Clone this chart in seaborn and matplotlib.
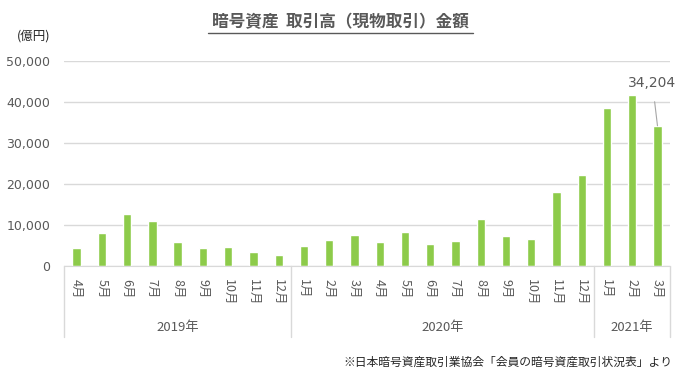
import numpy as np
import pandas as pd
import matplotlib
matplotlib.use("Agg")
import matplotlib.pyplot as plt
import seaborn as sns

sns.set_style("white")
plt.rcParams['font.family'] = ['Noto Sans CJK JP', 'DejaVu Sans']

# data (億円), 2019/4 - 2021/3
months = ['4月', '5月', '6月', '7月', '8月', '9月', '10月', '11月', '12月',
          '1月', '2月', '3月', '4月', '5月', '6月', '7月', '8月', '9月', '10月', '11月', '12月',
          '1月', '2月', '3月']
values = [4300, 8050, 12700, 11000, 5850, 4300, 4600, 3400, 2700,
          4900, 6300, 7600, 5850, 8300, 5350, 6100, 11450, 7300, 6600, 18000, 22200,
          38500, 41700, 34204]
years = ['2019年', '2020年', '2021年']
year_counts = [9, 12, 3]

df = pd.DataFrame({'idx': range(len(values)), 'value': values})

grey = '#595959'
fig = plt.figure(figsize=(6.81, 3.79), dpi=100)
ax = fig.add_axes([0.094, 0.298, 0.89, 0.541])

sns.barplot(data=df, x='idx', y='value', color='#8DCB4A', width=0.33,
            saturation=1, ax=ax)

ax.set_xlim(-0.5, len(values) - 0.5)
ax.set_ylim(0, 50000)
ax.set_yticks(range(0, 50001, 10000))
ax.set_yticklabels([f'{v:,}' for v in range(0, 50001, 10000)], color=grey,
                   fontsize=9, family=['DejaVu Sans'])
ax.yaxis.grid(True, color='#D9D9D9', linewidth=1)
ax.set_axisbelow(True)
for s in ['top', 'right', 'left']:
    ax.spines[s].set_visible(False)
ax.spines['bottom'].set_color('#D9D9D9')
ax.tick_params(axis='y', length=0, pad=10)
ax.set_xticks(range(len(values)))
ax.set_xticklabels(months, rotation=270, fontsize=9, color=grey)
ax.tick_params(axis='x', length=0, pad=9)
ax.set_xlabel('')
ax.set_ylabel('')

# category axis box
low = -0.346
bounds = [-0.5]
for c in year_counts:
    bounds.append(bounds[-1] + c)
trans = ax.get_xaxis_transform()
for b in bounds:
    ax.plot([b, b], [0, low], color='#D9D9D9', lw=1, transform=trans, clip_on=False)
for i, (y, c) in enumerate(zip(years, year_counts)):
    center = (bounds[i] + bounds[i + 1]) / 2
    ax.text(center, -0.30, y, transform=trans, ha='center', va='center',
            fontsize=9.5, color=grey)

# label for last bar
ax.annotate('34,204', xy=(23, 34204), xytext=(22.8, 44600), ha='center', va='center',
            fontsize=10, color=grey, family=['DejaVu Sans'],
            arrowprops=dict(arrowstyle='-', color='#A6A6A6', lw=0.8,
                            shrinkA=6, shrinkB=0))

fig.text(0.50, 0.942, '暗号資産  取引高（現物取引）金額', ha='center', va='center',
         fontsize=12, fontweight='bold', color=grey)
fig.add_artist(plt.Line2D([0.305, 0.695], [0.914, 0.914], color=grey, lw=1))
fig.text(0.049, 0.905, '(億円)', ha='center', va='center', fontsize=9, color='#262626')
fig.text(0.988, 0.045, '※日本暗号資産取引業協会「会員の暗号資産取引状況表」より',
         ha='right', va='center', fontsize=8.5, color='#262626')

fig.savefig('out.png', dpi=100)
